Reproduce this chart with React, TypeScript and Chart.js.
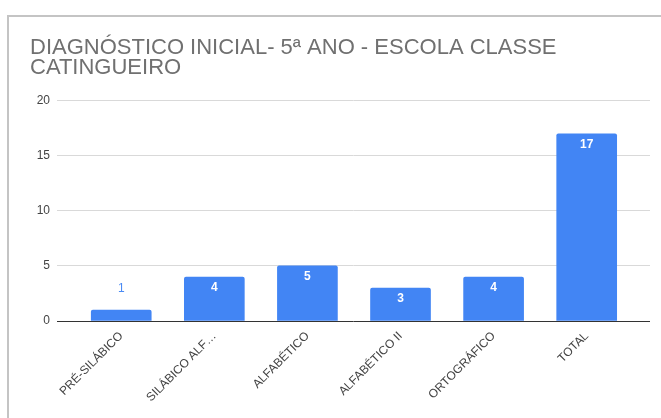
import React, { useEffect, useRef } from "react";
import { Chart, registerables } from "chart.js";

Chart.register(...registerables);

const titleLines = ["DIAGNÓSTICO INICIAL- 5ª ANO - ESCOLA CLASSE", "CATINGUEIRO"];
const categories = ["PRÉ-SILÁBICO", "SILÁBICO ALF…", "ALFABÉTICO", "ALFABÉTICO II", "ORTOGRÁFICO", "TOTAL"];
const values = [1, 4, 5, 3, 4, 17];
const yTicks = [0, 5, 10, 15, 20];

const FONT = "Arial, 'Liberation Sans', sans-serif";
const BLUE = "#4285f4";

const valueLabels = {
  id: "valueLabels",
  afterDatasetsDraw(chart: any) {
    const ctx = chart.ctx;
    const meta = chart.getDatasetMeta(0);
    ctx.save();
    ctx.textAlign = "center";
    ctx.textBaseline = "middle";
    meta.data.forEach((bar: any, i: number) => {
      const v = values[i];
      if (v >= 2) {
        ctx.fillStyle = "#ffffff";
        ctx.font = `bold 12px ${FONT}`;
        ctx.fillText(String(v), bar.x, bar.y + 11);
      } else {
        ctx.fillStyle = "#4a8af4";
        ctx.font = `12px ${FONT}`;
        ctx.fillText(String(v), bar.x, bar.y - 21);
      }
    });
    ctx.restore();
  },
};

export default function App() {
  const ref = useRef<HTMLCanvasElement>(null);
  useEffect(() => {
    if (!ref.current) return;
    const chart = new Chart(ref.current, {
      type: "bar",
      data: {
        datasets: [
          {
            data: values.map((v, i) => ({ x: i, y: v })),
            backgroundColor: BLUE,
            barThickness: 60,
            borderRadius: 2,
            borderSkipped: "start",
          },
        ],
      },
      options: {
        animation: false,
        responsive: false,
        maintainAspectRatio: false,
        layout: { padding: { left: 30, right: 11, top: 0, bottom: 0 } },
        plugins: {
          legend: { display: false },
          tooltip: { enabled: false },
          title: {
            display: true,
            text: titleLines,
            align: "start",
            color: "#707070",
            font: { family: FONT, size: 22, weight: "normal", lineHeight: 0.95 },
            padding: { top: 37, bottom: 22 },
          },
        },
        scales: {
          x: {
            type: "linear",
            offset: false,
            min: -0.69,
            max: 5.68,
            afterBuildTicks: (scale: any) => {
              scale.ticks = categories.map((_, i) => ({ value: i }));
            },
            afterFit: (scale: any) => {
              scale.height = 97;
            },
            ticks: {
              autoSkip: false,
              maxRotation: 45,
              minRotation: 45,
              padding: 8,
              color: "#444444",
              font: { family: FONT, size: 12 },
              callback: (v: any) => categories[Math.round(Number(v))] ?? "",
            },
            grid: { display: false, drawTicks: false, offset: false },
            border: { display: false },
          },
          y: {
            min: 0,
            max: 20,
            afterBuildTicks: (scale: any) => {
              scale.ticks = yTicks.map((v) => ({ value: v }));
            },
            afterFit: (scale: any) => {
              scale.width = 27;
            },
            ticks: {
              padding: 7,
              color: "#444444",
              font: { family: FONT, size: 12 },
            },
            grid: {
              drawTicks: false,
              color: (c: any) => (c.tick && c.tick.value === 0 ? "#333333" : "#d9d9d9"),
              lineWidth: 1,
            },
            border: { display: false },
          },
        },
      },
      plugins: [valueLabels],
    });
    return () => chart.destroy();
  }, []);

  return (
    <div style={{ position: "fixed", left: 0, top: 0, width: 661, height: 418, background: "#ffffff", overflow: "hidden" }}>
      <div style={{ position: "absolute", left: 7, top: 15, width: 654, height: 2, background: "#c4c4c4" }} />
      <div style={{ position: "absolute", left: 7, top: 15, width: 2, height: 403, background: "#c4c4c4" }} />
      <canvas ref={ref} width={661} height={418} style={{ position: "absolute", left: 0, top: 0, display: "block" }} />
    </div>
  );
}
